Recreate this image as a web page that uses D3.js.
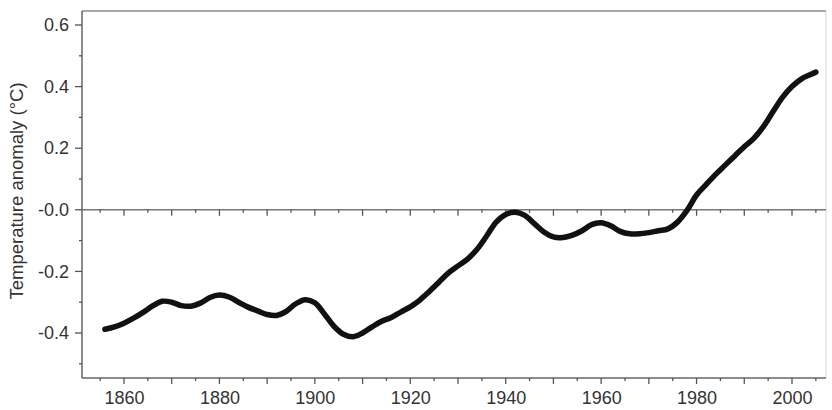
<!DOCTYPE html>
<html>
<head>
<meta charset="utf-8">
<script src="https://cdn.jsdelivr.net/npm/d3@7"></script>
<style>
html,body{margin:0;padding:0;background:#fff;}
svg{display:block;}
text{font-family:"Liberation Sans",Arial,sans-serif;fill:#333;}
</style>
</head>
<body>
<svg id="chart" width="832" height="410"></svg>
<script>
const years = [1856,1858,1860,1862,1864,1866,1868,1870,1872,1874,1876,1878,1880,1882,1884,1886,1888,1890,1892,1894,1896,1898,1900,1902,1904,1906,1908,1910,1912,1914,1916,1918,1920,1922,1924,1926,1928,1930,1932,1934,1936,1938,1940,1942,1944,1946,1948,1950,1952,1954,1956,1958,1960,1962,1964,1966,1968,1970,1972,1974,1976,1978,1980,1982,1984,1986,1988,1990,1992,1994,1996,1998,2000,2002,2004,2005];
const anomaly = [-0.388,-0.380,-0.368,-0.352,-0.333,-0.312,-0.297,-0.300,-0.311,-0.313,-0.303,-0.285,-0.277,-0.283,-0.300,-0.316,-0.328,-0.340,-0.343,-0.330,-0.305,-0.292,-0.302,-0.338,-0.378,-0.404,-0.412,-0.400,-0.380,-0.362,-0.350,-0.332,-0.315,-0.293,-0.265,-0.235,-0.205,-0.182,-0.160,-0.128,-0.085,-0.040,-0.015,-0.008,-0.018,-0.045,-0.072,-0.088,-0.090,-0.082,-0.068,-0.048,-0.042,-0.052,-0.070,-0.078,-0.078,-0.074,-0.068,-0.062,-0.040,-0.002,0.048,0.082,0.115,0.145,0.175,0.205,0.232,0.270,0.318,0.365,0.400,0.425,0.440,0.447];
const xTickLabels = [1860,1880,1900,1920,1940,1960,1980,2000];
const xMinorTicks = d3.range(1855,2006,5);
const yTickLabels = [0.6,0.4,0.2,0.0,-0.2,-0.4];
const yMinorTicks = d3.range(-5,7).map(d=>d/10);
const yAxisTitle = "Temperature anomaly (\u00B0C)";

const svg = d3.select("#chart");
const L = 82, R = 826, T = 11, B = 378;
const x = d3.scaleLinear().domain([1860,2000]).range([124,792]);
const y = d3.scaleLinear().domain([-0.4,0.6]).range([333,25]);

// frame
svg.append("line").attr("x1",L).attr("x2",R).attr("y1",T).attr("y2",T).attr("stroke","#8a8a8a").attr("stroke-width",1.5);
svg.append("line").attr("x1",R).attr("x2",R).attr("y1",T).attr("y2",B).attr("stroke","#d8d8d8").attr("stroke-width",1);
svg.append("line").attr("x1",L).attr("x2",L).attr("y1",T).attr("y2",B).attr("stroke","#666").attr("stroke-width",1.5);
svg.append("line").attr("x1",L).attr("x2",R).attr("y1",B).attr("y2",B).attr("stroke","#666").attr("stroke-width",1.5);

// zero line
svg.append("line").attr("x1",L).attr("x2",R).attr("y1",y(0)).attr("y2",y(0)).attr("stroke","#777").attr("stroke-width",1.5);

const isMajorYear = d => d % 10 === 0;

// ticks on zero line
svg.append("g").selectAll("line").data(xMinorTicks).join("line")
  .attr("x1",d=>x(d)).attr("x2",d=>x(d))
  .attr("y1",y(0)).attr("y2",d=>y(0)+(isMajorYear(d)?6:3))
  .attr("stroke","#555").attr("stroke-width",1.3);

// bottom axis
const xAxis = d3.axisBottom(x).tickValues(xTickLabels).tickFormat(d3.format("d")).tickSize(0).tickPadding(13);
const gx = svg.append("g").attr("transform",`translate(0,${B})`).call(xAxis);
gx.select(".domain").remove();
gx.selectAll("text").attr("font-size",18).style("fill","#333");
svg.append("g").selectAll("line").data(xMinorTicks).join("line")
  .attr("x1",d=>x(d)).attr("x2",d=>x(d))
  .attr("y1",B).attr("y2",d=>B+(isMajorYear(d)?6:3))
  .attr("stroke","#555").attr("stroke-width",1.3);

// left axis
const fmt = d => d === 0 ? "-0.0" : d3.format(".1f")(d).replace("\u2212","-");
const yAxis = d3.axisLeft(y).tickValues(yTickLabels).tickFormat(fmt).tickSize(0).tickPadding(13);
const gy = svg.append("g").attr("transform",`translate(${L},0)`).call(yAxis);
gy.select(".domain").remove();
gy.selectAll("text").attr("font-size",18).style("fill","#333");
svg.append("g").selectAll("line").data(yMinorTicks).join("line")
  .attr("x1",d=>L-((Math.round(d*10)%2===0)?7:3)).attr("x2",L)
  .attr("y1",d=>y(d)).attr("y2",d=>y(d))
  .attr("stroke","#555").attr("stroke-width",1.3);

// y title
svg.append("text")
  .attr("transform",`translate(18,191) rotate(-90)`)
  .attr("text-anchor","middle").attr("dominant-baseline","middle")
  .attr("font-size",18.5).text(yAxisTitle);

// data line
const data = years.map((yr,i)=>({yr, v: anomaly[i]}));
const line = d3.line().x(d=>x(d.yr)).y(d=>y(d.v)).curve(d3.curveCatmullRom.alpha(0.5));
svg.append("path").datum(data).attr("d",line)
  .attr("fill","none").attr("stroke","#111").attr("stroke-width",5.5)
  .attr("stroke-linecap","round").attr("stroke-linejoin","round");
</script>
</body>
</html>
